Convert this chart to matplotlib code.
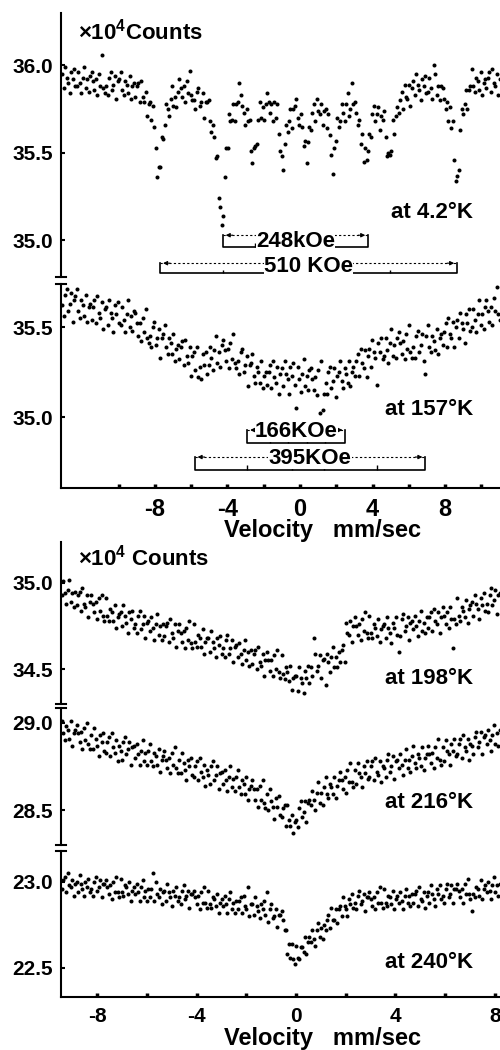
import numpy as np
import matplotlib
matplotlib.use("Agg")
import matplotlib.pyplot as plt
from matplotlib.ticker import MultipleLocator, FixedLocator, FormatStrFormatter

plt.rcParams['font.family'] = ['Liberation Sans', 'DejaVu Sans']
plt.rcParams['font.weight'] = 'bold'
plt.rcParams['mathtext.fontset'] = 'custom'
plt.rcParams['mathtext.rm'] = 'Liberation Sans:bold'
plt.rcParams['mathtext.bf'] = 'Liberation Sans:bold'

# channel velocity span of each run (mm/sec)
VEL_UPPER = (-13.1, 11.0)   # 4.2 K and 157 K
VEL_LOWER = (-9.42, 8.2)    # 198 K, 216 K, 240 K

# counts per channel, in units of 100 counts
counts_4K = [
    3595, 3587, 3599, 3593, 3590, 3584, 3596, 3592, 3598, 3588,
    3588, 3596, 3590, 3584, 3593, 3599, 3587, 3592, 3585, 3594,
    3596, 3591, 3586, 3592, 3583, 3595, 3588, 3606, 3587, 3584,
    3588, 3583, 3593, 3596, 3586, 3589, 3594, 3581, 3591, 3592,
    3596, 3586, 3583, 3591, 3589, 3584, 3594, 3581, 3588, 3590,
    3582, 3588, 3590, 3579, 3591, 3582, 3579, 3585, 3571, 3578,
    3579, 3569, 3577, 3565, 3553, 3536, 3542, 3542, 3559, 3558,
    3566, 3578, 3575, 3571, 3581, 3588, 3577, 3582, 3576, 3585,
    3592, 3587, 3582, 3588, 3579, 3591, 3584, 3597, 3583, 3580,
    3580, 3575, 3585, 3587, 3577, 3579, 3584, 3570, 3579, 3579,
    3580, 3568, 3562, 3566, 3559, 3547, 3548, 3524, 3519, 3509,
    3514, 3536, 3553, 3553, 3572, 3568, 3569, 3578, 3568, 3578,
    3579, 3590, 3583, 3577, 3573, 3566, 3575, 3568, 3569, 3551,
    3544, 3553, 3554, 3555, 3569, 3579, 3570, 3576, 3569, 3578,
    3584, 3579, 3573, 3578, 3568, 3579, 3570, 3578, 3561, 3551,
    3548, 3540, 3555, 3566, 3562, 3568, 3575, 3564, 3575, 3577,
    3581, 3570, 3566, 3572, 3565, 3554, 3557, 3544, 3556, 3565,
    3563, 3573, 3578, 3568, 3581, 3574, 3572, 3578, 3566, 3574,
    3575, 3564, 3572, 3560, 3549, 3538, 3553, 3557, 3570, 3565,
    3568, 3578, 3573, 3568, 3578, 3584, 3571, 3575, 3590, 3578,
    3579, 3573, 3566, 3569, 3555, 3561, 3545, 3553, 3546, 3551,
    3561, 3559, 3572, 3577, 3568, 3572, 3576, 3563, 3571, 3569,
    3574, 3559, 3548, 3550, 3549, 3551, 3569, 3561, 3571, 3576,
    3573, 3580, 3585, 3575, 3589, 3582, 3581, 3589, 3577, 3587,
    3591, 3583, 3595, 3589, 3586, 3580, 3592, 3588, 3594, 3584,
    3585, 3593, 3587, 3581, 3600, 3595, 3583, 3588, 3580, 3588,
    3587, 3581, 3575, 3579, 3568, 3576, 3564, 3568, 3546, 3534,
    3537, 3540, 3563, 3575, 3572, 3578, 3586, 3575, 3586, 3588,
    3598, 3588, 3585, 3593, 3591, 3586, 3596, 3583, 3590, 3592,
    3587, 3593, 3596, 3585, 3598, 3590, 3588, 3595, 3583, 3592,
]

counts_157K = [
    3562, 3556, 3568, 3571, 3559, 3563, 3569, 3553, 3565, 3567,
    3571, 3559, 3555, 3565, 3562, 3556, 3568, 3553, 3561, 3563,
    3554, 3561, 3565, 3552, 3567, 3558, 3555, 3564, 3549, 3560,
    3561, 3551, 3565, 3558, 3555, 3547, 3562, 3557, 3564, 3552,
    3551, 3561, 3554, 3547, 3557, 3565, 3550, 3556, 3548, 3559,
    3558, 3552, 3545, 3552, 3542, 3555, 3547, 3560, 3544, 3541,
    3545, 3539, 3550, 3553, 3540, 3544, 3549, 3533, 3544, 3546,
    3551, 3539, 3535, 3544, 3541, 3535, 3546, 3531, 3538, 3540,
    3532, 3539, 3542, 3529, 3543, 3534, 3530, 3539, 3523, 3534,
    3536, 3526, 3539, 3522, 3528, 3521, 3535, 3529, 3536, 3524,
    3529, 3539, 3533, 3526, 3537, 3545, 3530, 3536, 3528, 3540,
    3543, 3537, 3531, 3538, 3527, 3541, 3532, 3546, 3530, 3527,
    3531, 3524, 3536, 3538, 3525, 3529, 3534, 3517, 3529, 3530,
    3535, 3523, 3519, 3528, 3525, 3519, 3531, 3516, 3523, 3525,
    3518, 3525, 3529, 3516, 3531, 3522, 3519, 3528, 3513, 3524,
    3527, 3517, 3531, 3524, 3521, 3513, 3528, 3523, 3530, 3518,
    3505, 3528, 3521, 3514, 3524, 3532, 3517, 3523, 3515, 3526,
    3527, 3521, 3515, 3522, 3512, 3526, 3502, 3531, 3504, 3513,
    3519, 3513, 3525, 3528, 3516, 3520, 3527, 3511, 3523, 3525,
    3531, 3520, 3516, 3527, 3524, 3519, 3531, 3517, 3525, 3528,
    3523, 3531, 3535, 3523, 3538, 3530, 3527, 3537, 3522, 3534,
    3538, 3528, 3543, 3536, 3533, 3518, 3541, 3536, 3544, 3532,
    3534, 3544, 3537, 3530, 3541, 3549, 3534, 3540, 3533, 3544,
    3547, 3541, 3535, 3542, 3532, 3546, 3538, 3551, 3536, 3533,
    3539, 3533, 3545, 3548, 3536, 3540, 3546, 3531, 3524, 3545,
    3551, 3539, 3536, 3545, 3542, 3537, 3549, 3535, 3544, 3546,
    3540, 3547, 3552, 3539, 3555, 3546, 3544, 3553, 3539, 3550,
    3554, 3544, 3558, 3552, 3549, 3541, 3557, 3552, 3560, 3548,
    3550, 3560, 3554, 3547, 3557, 3565, 3551, 3557, 3549, 3561,
    3565, 3559, 3553, 3561, 3551, 3566, 3559, 3572, 3557, 3554,
]

counts_198K = [
    3493, 3501, 3494, 3488, 3496, 3502, 3489, 3494, 3486, 3495,
    3487, 3493, 3495, 3484, 3497, 3488, 3486, 3493, 3480, 3489,
    3493, 3488, 3483, 3489, 3479, 3491, 3484, 3493, 3481, 3478,
    3491, 3481, 3478, 3485, 3483, 3478, 3487, 3474, 3480, 3482,
    3483, 3475, 3487, 3481, 3477, 3471, 3483, 3479, 3484, 3474,
    3476, 3471, 3481, 3484, 3473, 3476, 3481, 3468, 3477, 3478,
    3472, 3480, 3474, 3467, 3476, 3482, 3470, 3475, 3467, 3476,
    3469, 3475, 3477, 3466, 3479, 3471, 3468, 3476, 3463, 3472,
    3476, 3471, 3466, 3472, 3462, 3474, 3467, 3478, 3465, 3462,
    3476, 3466, 3463, 3470, 3468, 3463, 3473, 3459, 3466, 3468,
    3468, 3460, 3472, 3466, 3462, 3457, 3468, 3464, 3469, 3459,
    3462, 3457, 3467, 3470, 3459, 3462, 3467, 3454, 3463, 3464,
    3457, 3465, 3459, 3453, 3461, 3467, 3455, 3460, 3452, 3461,
    3453, 3459, 3461, 3450, 3463, 3454, 3452, 3459, 3446, 3455,
    3460, 3455, 3449, 3455, 3446, 3458, 3450, 3461, 3448, 3445,
    3458, 3447, 3444, 3451, 3448, 3443, 3452, 3438, 3445, 3446,
    3446, 3437, 3451, 3445, 3442, 3436, 3449, 3445, 3452, 3442,
    3451, 3446, 3468, 3459, 3449, 3452, 3458, 3445, 3455, 3456,
    3441, 3459, 3454, 3448, 3457, 3463, 3451, 3457, 3451, 3460,
    3454, 3461, 3464, 3454, 3477, 3471, 3470, 3478, 3466, 3475,
    3480, 3475, 3470, 3476, 3467, 3479, 3472, 3483, 3471, 3468,
    3481, 3471, 3468, 3476, 3474, 3469, 3479, 3466, 3473, 3475,
    3476, 3468, 3480, 3474, 3471, 3465, 3477, 3474, 3480, 3470,
    3460, 3469, 3479, 3482, 3472, 3475, 3480, 3467, 3477, 3478,
    3473, 3481, 3475, 3469, 3478, 3484, 3472, 3477, 3471, 3480,
    3474, 3480, 3483, 3472, 3485, 3478, 3476, 3483, 3471, 3480,
    3486, 3481, 3476, 3483, 3474, 3486, 3479, 3462, 3479, 3476,
    3491, 3481, 3478, 3486, 3484, 3480, 3490, 3477, 3485, 3487,
    3489, 3481, 3493, 3488, 3485, 3479, 3491, 3487, 3494, 3484,
    3488, 3483, 3493, 3497, 3487, 3490, 3496, 3482, 3493, 3494,
]

counts_216K = [
    2901, 2894, 2890, 2898, 2896, 2891, 2901, 2887, 2894, 2896,
    2899, 2894, 2889, 2895, 2885, 2897, 2890, 2900, 2888, 2885,
    2893, 2885, 2897, 2891, 2887, 2881, 2893, 2889, 2894, 2884,
    2883, 2889, 2892, 2881, 2894, 2886, 2883, 2890, 2878, 2887,
    2884, 2879, 2889, 2892, 2882, 2885, 2889, 2876, 2886, 2887,
    2880, 2888, 2882, 2876, 2884, 2890, 2878, 2883, 2876, 2884,
    2888, 2878, 2875, 2883, 2881, 2876, 2885, 2872, 2879, 2881,
    2884, 2879, 2874, 2880, 2871, 2883, 2876, 2886, 2874, 2871,
    2879, 2871, 2883, 2877, 2873, 2867, 2879, 2875, 2880, 2870,
    2869, 2875, 2878, 2867, 2880, 2872, 2869, 2876, 2864, 2873,
    2870, 2865, 2875, 2878, 2867, 2870, 2875, 2862, 2871, 2872,
    2865, 2873, 2867, 2861, 2869, 2875, 2863, 2868, 2861, 2869,
    2873, 2863, 2859, 2867, 2865, 2859, 2869, 2856, 2862, 2864,
    2867, 2862, 2856, 2862, 2852, 2864, 2856, 2867, 2854, 2851,
    2859, 2850, 2862, 2855, 2852, 2845, 2857, 2852, 2858, 2847,
    2846, 2851, 2853, 2841, 2853, 2844, 2841, 2847, 2837, 2843,
    2844, 2840, 2851, 2855, 2846, 2849, 2855, 2843, 2854, 2856,
    2853, 2861, 2856, 2850, 2860, 2866, 2854, 2860, 2853, 2863,
    2869, 2859, 2857, 2865, 2863, 2859, 2869, 2857, 2864, 2867,
    2872, 2867, 2862, 2869, 2860, 2873, 2866, 2877, 2866, 2863,
    2873, 2865, 2877, 2871, 2869, 2863, 2875, 2871, 2878, 2868,
    2869, 2875, 2878, 2867, 2880, 2872, 2870, 2878, 2866, 2875,
    2874, 2869, 2879, 2882, 2872, 2875, 2881, 2868, 2878, 2879,
    2874, 2882, 2876, 2870, 2879, 2885, 2874, 2879, 2872, 2881,
    2887, 2877, 2874, 2882, 2880, 2875, 2886, 2873, 2880, 2882,
    2887, 2882, 2877, 2883, 2874, 2886, 2880, 2891, 2879, 2876,
    2886, 2878, 2890, 2884, 2882, 2876, 2888, 2884, 2891, 2881,
    2882, 2888, 2891, 2880, 2893, 2886, 2884, 2891, 2879, 2888,
    2887, 2882, 2892, 2895, 2886, 2889, 2895, 2882, 2892, 2893,
    2888, 2896, 2890, 2884, 2893, 2899, 2888, 2894, 2887, 2896,
]

counts_240K = [
    2296, 2301, 2303, 2294, 2305, 2298, 2297, 2301, 2292, 2299,
    2300, 2294, 2304, 2299, 2296, 2292, 2300, 2297, 2302, 2294,
    2296, 2292, 2300, 2303, 2295, 2297, 2301, 2291, 2299, 2299,
    2301, 2297, 2293, 2298, 2290, 2300, 2294, 2303, 2294, 2291,
    2302, 2294, 2292, 2298, 2297, 2293, 2300, 2289, 2295, 2297,
    2293, 2299, 2294, 2289, 2297, 2301, 2291, 2295, 2289, 2296,
    2291, 2296, 2305, 2289, 2300, 2293, 2291, 2296, 2287, 2294,
    2295, 2289, 2299, 2294, 2291, 2286, 2295, 2292, 2297, 2289,
    2291, 2287, 2295, 2298, 2290, 2292, 2295, 2285, 2293, 2293,
    2295, 2291, 2287, 2292, 2284, 2294, 2288, 2297, 2288, 2285,
    2295, 2287, 2285, 2291, 2290, 2286, 2293, 2282, 2288, 2290,
    2286, 2292, 2287, 2282, 2290, 2294, 2284, 2288, 2282, 2289,
    2284, 2289, 2291, 2282, 2292, 2286, 2284, 2297, 2280, 2287,
    2287, 2281, 2291, 2286, 2283, 2279, 2287, 2284, 2289, 2281,
    2294, 2277, 2284, 2287, 2279, 2280, 2284, 2274, 2281, 2281,
    2283, 2278, 2272, 2272, 2258, 2264, 2256, 2264, 2255, 2252,
    2263, 2256, 2255, 2262, 2262, 2259, 2268, 2258, 2265, 2268,
    2265, 2272, 2267, 2263, 2272, 2276, 2268, 2273, 2267, 2275,
    2272, 2278, 2281, 2273, 2285, 2278, 2278, 2284, 2276, 2284,
    2286, 2280, 2291, 2286, 2284, 2280, 2290, 2287, 2293, 2285,
    2288, 2284, 2292, 2295, 2287, 2289, 2293, 2283, 2291, 2291,
    2294, 2290, 2286, 2291, 2284, 2294, 2288, 2297, 2288, 2285,
    2296, 2288, 2286, 2292, 2291, 2287, 2295, 2284, 2290, 2292,
    2288, 2294, 2289, 2284, 2292, 2296, 2288, 2292, 2286, 2293,
    2288, 2293, 2295, 2286, 2297, 2290, 2289, 2294, 2285, 2292,
    2294, 2288, 2298, 2293, 2290, 2286, 2296, 2293, 2298, 2290,
    2292, 2288, 2296, 2299, 2291, 2293, 2298, 2288, 2296, 2296,
    2299, 2295, 2291, 2296, 2288, 2299, 2293, 2302, 2293, 2290,
    2283, 2293, 2291, 2297, 2296, 2292, 2301, 2290, 2296, 2298,
    2294, 2300, 2295, 2290, 2298, 2303, 2294, 2298, 2292, 2299,
]

temps = ["at 4.2\u00b0K", "at 157\u00b0K", "at 198\u00b0K", "at 216\u00b0K", "at 240\u00b0K"]

# hyperfine field markers: label, outer line velocities, inner line ticks
fields_4K = [("248kOe", -4.25, 3.75, [-2.5, -0.9, -0.2, 1.8]),
             ("510 KOe", -7.7, 8.65, [-4.25, -0.9, 1.8, 4.95])]
fields_157K = [("166KOe", -2.9, 2.5, [-1.65, -0.65, 0.4, 1.4]),
               ("395KOe", -5.8, 6.9, [-2.9, -0.45, 1.3, 4.25])]

W, H = 500, 1050
fig = plt.figure(figsize=(W / 100, H / 100), dpi=100)


def px_axes(top, bottom, left=61, right=500):
    return fig.add_axes([left / W, 1 - bottom / H, (right - left) / W, (bottom - top) / H])


def style(ax, xlim, ylim, yticks, bottom=False, xfs=15, upper=False):
    ax.set_xlim(*xlim)
    ax.set_ylim(*ylim)
    ax.patch.set_visible(False)
    for s in ("top", "right"):
        ax.spines[s].set_visible(False)
    ax.spines["left"].set_linewidth(1.5)
    ax.spines["bottom"].set_visible(bottom)
    ax.spines["bottom"].set_linewidth(1.5)
    ax.set_yticks(yticks)
    ax.yaxis.set_major_formatter(FormatStrFormatter("%.1f"))
    ax.tick_params(axis="y", direction="in", length=3, width=1.5, pad=6, labelsize=15)
    if bottom:
        if upper:
            ax.xaxis.set_major_locator(FixedLocator([-8, -4, 0, 4, 8]))
            ax.xaxis.set_minor_locator(FixedLocator([-10, -6, -2, 2, 6, 10]))
        else:
            ax.xaxis.set_major_locator(MultipleLocator(4))
            ax.xaxis.set_minor_locator(MultipleLocator(2))
        ax.xaxis.set_major_formatter(FormatStrFormatter("%d"))
        ax.tick_params(axis="x", which="both", direction="in", length=3, width=2.5,
                       pad=7, labelsize=xfs)
    else:
        ax.tick_params(axis="x", which="both", bottom=False, labelbottom=False)


def spectrum(ax, vel, counts):
    y = np.array(counts) / 100.0
    x = np.linspace(vel[0], vel[1], len(y))
    ax.plot(x, y, "o", ms=2.9, mec="none", color="black", clip_on=True)


def break_mark(ax, where):
    ax.plot([-0.011, 0.011], [where, where], transform=ax.transAxes, color="black",
            lw=1.5, clip_on=False)


def field_bracket(ax, label, v0, v1, ticks, y_top, y_bot, y_txt, fs=16):
    ax.plot([v0, v0, v1, v1], [y_top, y_bot, y_bot, y_top], color="black", lw=1.2)
    ax.plot([v0, v1], [y_top, y_top], color="black", lw=0.8, ls=(0, (2, 2)))
    for a, b in ((v0, v0 + 0.7), (v1, v1 - 0.7)):
        ax.annotate("", xy=(a, y_top), xytext=(b, y_top),
                    arrowprops=dict(arrowstyle="-|>", lw=0.8, color="black", mutation_scale=6))
    ax.vlines(ticks, y_bot, y_bot + (y_top - y_bot) * 0.35, color="black", lw=1.0)
    ax.text((v0 + v1) / 2, y_txt, label, ha="center", va="center", fontsize=fs,
            fontweight="bold", bbox=dict(fc="white", ec="none", pad=0.1))


# ---- upper group: 4.2 K and 157 K
ax1 = px_axes(13, 277)
ax2 = px_axes(284, 488)
style(ax1, (-13.17, 11.02), (34.79, 36.30), [35.0, 35.5, 36.0])
style(ax2, (-13.17, 11.02), (34.606, 35.739), [35.0, 35.5], bottom=True, xfs=17, upper=True)
spectrum(ax1, VEL_UPPER, counts_4K)
spectrum(ax2, VEL_UPPER, counts_157K)
break_mark(ax1, 0)
break_mark(ax2, 1)

(l1, a1, b1, t1), (l2, a2, b2, t2) = fields_4K
field_bracket(ax1, l1, a1, b1, t1, 35.029, 34.96, 34.994)
field_bracket(ax1, l2, a2, b2, t2, 34.869, 34.811, 34.850)
(l1, a1, b1, t1), (l2, a2, b2, t2) = fields_157K
field_bracket(ax2, l1, a1, b1, t1, 34.928, 34.856, 34.922)
field_bracket(ax2, l2, a2, b2, t2, 34.778, 34.706, 34.772)

# ---- lower group: 198, 216, 240 K
ax3 = px_axes(542, 704)
ax4 = px_axes(708, 845)
ax5 = px_axes(851, 997)
style(ax3, (-9.46, 8.21), (34.297, 35.238), [34.5, 35.0])
style(ax4, (-9.46, 8.21), (28.299, 29.086), [28.5, 29.0])
style(ax5, (-9.46, 8.21), (22.331, 23.180), [22.5, 23.0], bottom=True, xfs=15)
spectrum(ax3, VEL_LOWER, counts_198K)
spectrum(ax4, VEL_LOWER, counts_216K)
spectrum(ax5, VEL_LOWER, counts_240K)
break_mark(ax3, 0)
break_mark(ax4, 1)
break_mark(ax4, 0)
break_mark(ax5, 1)


def ftext(x, y, s, fs, **kw):
    fig.text(x / W, 1 - y / H, s, fontsize=fs, fontweight="bold", va="center", **kw)


ftext(78, 32, "\u00d710$^{\\mathregular{4}}$Counts", 16)
ftext(78, 558, "\u00d710$^{\\mathregular{4}}$ Counts", 16)
for (y, s) in zip([213, 410, 678, 802, 963], temps):
    ftext(473, y, s, 16, ha="right")
ftext(323, 530, "Velocity   mm/sec", 17, ha="center")
ftext(323, 1039, "Velocity   mm/sec", 17, ha="center")

fig.savefig("out.png", dpi=100, facecolor="white")
